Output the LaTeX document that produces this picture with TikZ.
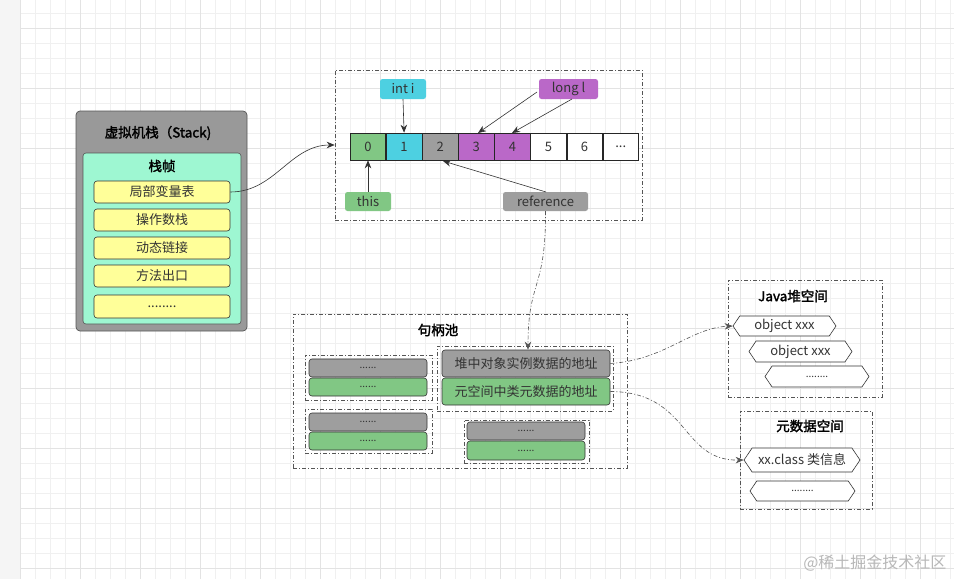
\documentclass[tikz,border=0pt]{standalone}
\usepackage{fontspec}
\setmainfont{Noto Sans CJK SC}[AutoFakeBold=2]
\usetikzlibrary{arrows.meta,shapes.symbols}
\definecolor{gridc}{HTML}{F0F0F0}
\definecolor{gridm}{HTML}{E3E3E3}
\definecolor{stackgray}{HTML}{999999}
\definecolor{framec}{HTML}{555555}
\definecolor{mint}{HTML}{9EF7D2}
\definecolor{lyellow}{HTML}{FFFF99}
\definecolor{cgreen}{HTML}{81C784}
\definecolor{ccyan}{HTML}{4DD0E1}
\definecolor{cgray}{HTML}{9E9E9E}
\definecolor{cpurple}{HTML}{BA68C8}
\definecolor{txt}{HTML}{333333}
\tikzset{
  every node/.style={text=txt, font=\fontsize{13}{15}\selectfont},
  dd/.style={draw=framec, dash pattern=on 4pt off 2pt on 1pt off 2pt, line width=0.6pt},
  rbox/.style={draw=black!80, rounded corners=3pt, line width=0.6pt, inner sep=0pt},
  cell/.style={draw=black!85, line width=0.6pt, minimum width=35.5pt, minimum height=27pt, inner sep=0pt},
  tag/.style={rounded corners=2.5pt, inner sep=0pt, minimum height=20pt},
  hexa/.style={shape=signal, signal to=west and east, signal pointer angle=112, draw=black!80, line width=0.6pt, inner sep=0pt, fill=white},
  arr/.style={-{Stealth[length=8pt,width=6.5pt]}, line width=0.6pt, draw=black!80},
  ttl/.style={font=\fontsize{13.5}{15}\selectfont\bfseries, text=black},
  dots/.style={font=\fontsize{10}{11}\selectfont},
}
\begin{document}
\begin{tikzpicture}[x=1pt,y=-1pt]
\useasboundingbox (0,0) rectangle (954,579);
% background grid
\fill[white] (0,0) rectangle (954,579);
\fill[gridc!70] (0,0) rectangle (20,579);
\foreach \i in {0,...,62} { \draw[gridc, line width=0.5pt] (20+15*\i,0) -- (20+15*\i,579); }
\foreach \j in {0,...,38} { \draw[gridc, line width=0.5pt] (20,13+15*\j) -- (954,13+15*\j); }
\foreach \i in {0,...,15} { \draw[gridm, line width=0.5pt] (20+60*\i,0) -- (20+60*\i,579); }
\foreach \j in {0,...,9} { \draw[gridm, line width=0.5pt] (20,28+60*\j) -- (954,28+60*\j); }

% ===== Stack =====
\node[draw=framec, fill=stackgray, rounded corners=4pt, line width=0.7pt, minimum width=171pt, minimum height=220pt, inner sep=0pt] (stack) at (161.5,221) {};
\node[ttl] (stackt) at (158,133) {虚拟机栈（Stack)};
\node[draw=framec, fill=mint, rounded corners=3pt, line width=0.6pt, minimum width=158pt, minimum height=171pt, inner sep=0pt] (frame) at (162,238.5) {};
\node[ttl] (framet) at (162,166) {栈帧};
\node[rbox, fill=lyellow, minimum width=136pt, minimum height=22pt] (lvt) at (162,192) {局部变量表};
\node[rbox, fill=lyellow, minimum width=136pt, minimum height=22pt] (ops) at (162,220) {操作数栈};
\node[rbox, fill=lyellow, minimum width=136pt, minimum height=22pt] (dyn) at (162,248) {动态链接};
\node[rbox, fill=lyellow, minimum width=136pt, minimum height=22pt] (ret) at (162,276) {方法出口};
\node[rbox, fill=lyellow, minimum width=136pt, minimum height=23pt] (more) at (162,306.5) {........};

% ===== local variable table =====
\node[dd, minimum width=307pt, minimum height=150pt, inner sep=0pt] (lvbox) at (488.5,145) {};
\node[cell, fill=cgreen] (c0) at (368,146.5) {0};
\node[cell, fill=ccyan, anchor=west] (c1) at (c0.east) {1};
\node[cell, fill=cgray, anchor=west] (c2) at (c1.east) {2};
\node[cell, fill=cpurple, anchor=west] (c3) at (c2.east) {3};
\node[cell, fill=cpurple, anchor=west] (c4) at (c3.east) {4};
\node[cell, fill=white, anchor=west] (c5) at (c4.east) {5};
\node[cell, fill=white, anchor=west] (c6) at (c5.east) {6};
\node[cell, fill=white, anchor=west] (c7) at (c6.east) {...};

\node[tag, fill=ccyan, minimum width=46pt] (inti) at (403,89) {int i};
\node[tag, fill=cpurple, minimum width=59pt] (longl) at (568.5,89) {long l};
\node[tag, fill=cgreen, minimum width=46pt, minimum height=19pt] (this) at (368,201.5) {this};
\node[tag, fill=cgray, minimum width=85pt, minimum height=19pt] (ref) at (545.5,201.5) {reference};

\coordinate (l1) at (537,92);
\coordinate (l2) at (572,99);
\coordinate (c3t) at (478,133);
\coordinate (c4t) at (512,133);
\coordinate (c2b) at (443,161);
\coordinate (refs) at (546,192);
\draw[arr] (inti.south) -- (c1.north);
\draw[arr] (l1) -- (c3t);
\draw[arr] (l2) -- (c4t);
\draw[arr] (this.north) -- (c0.south);
\draw[arr] (refs) -- (c2b);

\draw[arr] (lvt.east) .. controls (275,192) and (290,145) .. (lvbox.west);

% ===== handle pool =====
\node[dd, minimum width=334pt, minimum height=154pt, inner sep=0pt] (pool) at (460,391) {};
\node[ttl] (poolt) at (438,330) {句柄池};

\node[dd, minimum width=176pt, minimum height=65pt, inner sep=0pt] (hbox) at (525,378.5) {};
\node[rbox, fill=cgray, minimum width=168pt, minimum height=27pt] (hobj) at (526,363.5) {堆中对象实例数据的地址};
\node[rbox, fill=cgreen, minimum width=168pt, minimum height=27pt] (hcls) at (526,391.5) {元空间中类元数据的地址};

\node[dd, minimum width=127pt, minimum height=45pt, inner sep=0pt] (g1) at (368.5,377.5) {};
\node[rbox, fill=cgray, minimum width=118pt, minimum height=18pt, dots] (g1a) at (368,368) {......};
\node[rbox, fill=cgreen, minimum width=118pt, minimum height=18pt, dots] (g1b) at (368,387) {......};

\node[dd, minimum width=127pt, minimum height=44pt, inner sep=0pt] (g2) at (368.5,431) {};
\node[rbox, fill=cgray, minimum width=118pt, minimum height=18pt, dots] (g2a) at (368,422) {......};
\node[rbox, fill=cgreen, minimum width=118pt, minimum height=18pt, dots] (g2b) at (368,441) {......};

\node[dd, minimum width=125pt, minimum height=43pt, inner sep=0pt] (g3) at (526.5,441.5) {};
\node[rbox, fill=cgray, minimum width=118pt, minimum height=18pt, dots] (g3a) at (526,431) {......};
\node[rbox, fill=cgreen, minimum width=118pt, minimum height=19pt, dots] (g3b) at (526,450.5) {......};

\draw[arr, dd] (ref.south) .. controls (546,290) and (528,280) .. (hobj.north -| 528,0);

% ===== heap =====
\node[dd, minimum width=154pt, minimum height=117pt, inner sep=0pt] (heap) at (805,338.5) {};
\node[ttl] (heapt) at (793,296) {Java堆空间};
\node[hexa, minimum width=103pt, minimum height=20pt] (o1) at (784.5,326) {object xxx};
\node[hexa, minimum width=103pt, minimum height=21pt] (o2) at (800.5,351.5) {object xxx};
\node[hexa, minimum width=104pt, minimum height=21pt, dots] (o3) at (817,376.5) {........};

% ===== metadata =====
\node[dd, minimum width=132pt, minimum height=98pt, inner sep=0pt] (meta) at (806,460) {};
\node[ttl] (metat) at (810,426) {元数据空间};
\node[hexa, minimum width=116pt, minimum height=24pt] (m1) at (802,460) {xx.class 类信息};
\node[hexa, minimum width=105pt, minimum height=20pt, dots] (m2) at (802.5,491) {........};

\draw[arr, dd] (hobj.east) .. controls (665,360) and (690,328) .. (o1.west);
\draw[arr, dd] (hcls.east) .. controls (690,392) and (680,461) .. (m1.west);

% watermark
\node[text=black!28, font=\fontsize{16}{18}\selectfont, anchor=east] (wm) at (950,563) {@稀土掘金技术社区};
\end{tikzpicture}
\end{document}
